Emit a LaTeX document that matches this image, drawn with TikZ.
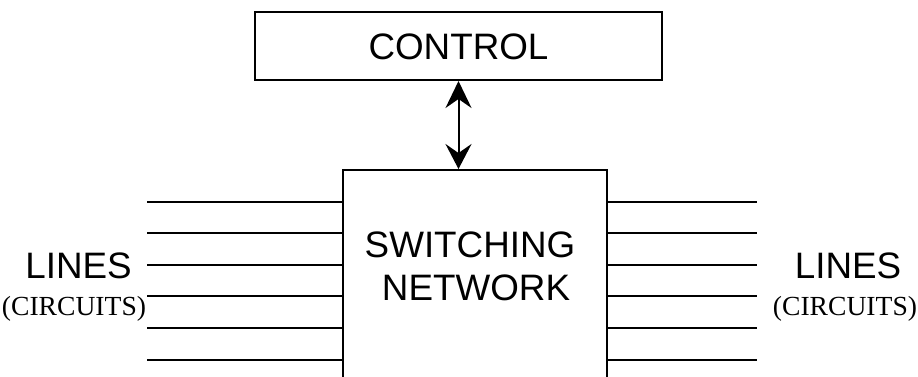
\documentclass[tikz,border=0pt]{standalone}
\usepackage{fontspec}
\setmainfont{Liberation Serif}
\newfontfamily\arialfont{Liberation Sans}
\usetikzlibrary{arrows.meta}
\tikzset{
  blk/.style={draw, line width=2pt, inner sep=0pt},
  wire/.style={line width=2pt},
  bigtxt/.style={font=\arialfont\fontsize{36.8}{44}\selectfont, inner sep=0pt, anchor=base},
  smalltxt/.style={font=\fontsize{27.6}{33}\selectfont, inner sep=0pt, anchor=base},
  dbl/.style={line width=2pt, {Stealth[length=27pt,width=26pt,inset=9pt]}-{Stealth[length=25pt,width=26pt,inset=9pt]}}
}
\begin{document}
\begin{tikzpicture}[x=1pt,y=-1pt]
\useasboundingbox (0,0) rectangle (918,376);
\clip (0,0) rectangle (918,376);
\node[blk, minimum width=407pt, minimum height=68pt] (ctrl) at (458.5,46) {};
\node[bigtxt] (ctrltxt) at (458.5,59) {CONTROL};
\node[blk, minimum width=264pt, minimum height=230pt] (sw) at (475,285) {};
\node[bigtxt] (swtxt1) at (470,257.3) {SWITCHING};
\node[bigtxt] (swtxt2) at (476,300) {NETWORK};
\draw[dbl] (ctrl.south) -- (ctrl.south |- sw.north);
\foreach \i/\y in {1/202,2/233,3/265,4/296,5/328,6/360} {
  \coordinate (L\i) at (147,\y);
  \coordinate (R\i) at (757,\y);
  \draw[wire] (L\i) -- (L\i -| sw.west);
  \draw[wire] (sw.east |- R\i) -- (R\i);
}
\node[bigtxt] (linesL) at (78.5,278.3) {LINES};
\node[smalltxt] (circL) at (74,315) {(CIRCUITS)};
\node[bigtxt] (linesR) at (848,278.3) {LINES};
\node[smalltxt] (circR) at (845,315) {(CIRCUITS)};
\end{tikzpicture}
\end{document}
